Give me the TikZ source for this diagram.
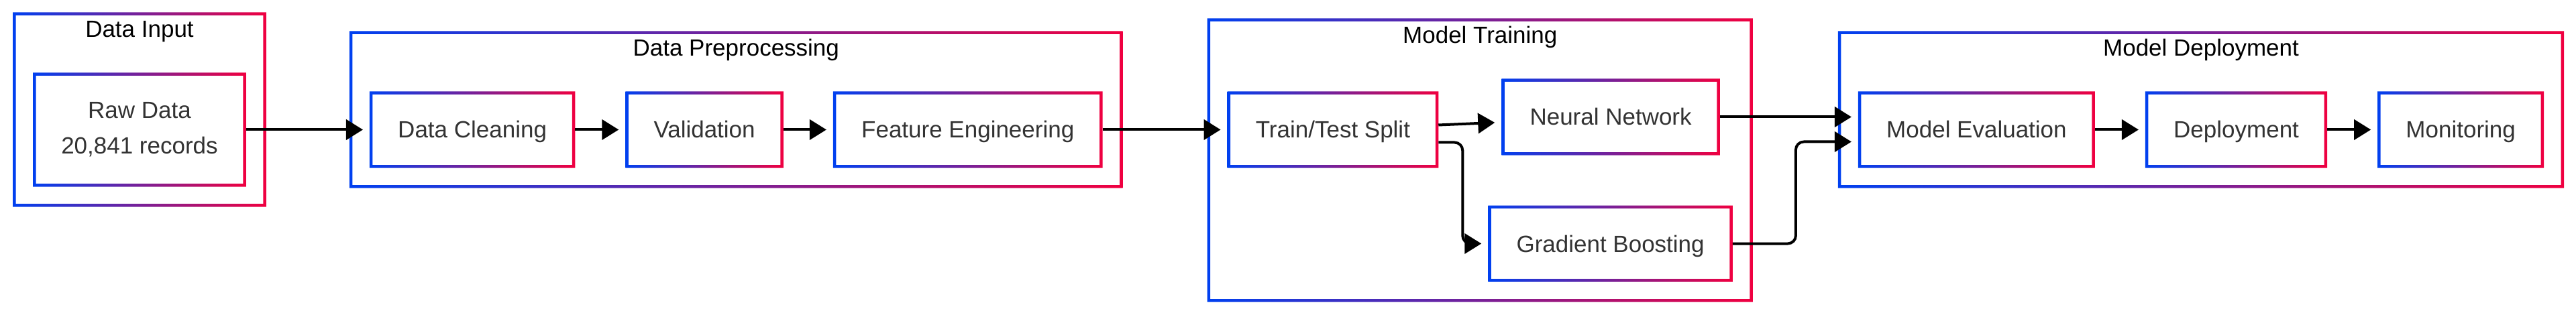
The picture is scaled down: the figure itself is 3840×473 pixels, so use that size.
\documentclass[tikz,border=0pt]{standalone}
\usepackage{fontspec}
\setmainfont{Liberation Sans}
\usepackage{xcolor}
\usetikzlibrary{arrows.meta, positioning, fit, calc}

\definecolor{gradblue}{RGB}{0,64,240}
\definecolor{gradred}{RGB}{240,0,64}
\definecolor{boxtext}{RGB}{51,51,51}

% gradient border: blue on the left, red on the right
\newcommand{\gradframe}[1]{%
  \shade[left color=gradblue, right color=gradred, even odd rule]
    (#1.south west) rectangle (#1.north east)
    ([shift={(4.5pt,4.5pt)}]#1.south west) rectangle ([shift={(-4.5pt,-4.5pt)}]#1.north east);}

\begin{document}
\begin{tikzpicture}[x=1pt, y=1pt,
    box/.style={rectangle, minimum height=109.5pt, inner xsep=40pt, outer sep=2.25pt, text=boxtext, font=\fontsize{35pt}{53pt}\selectfont},
    onebox/.style={box, text height=25pt, text depth=0pt},
    stagegroup/.style={rectangle, inner sep=27.75pt, outer sep=2.25pt},
    grouptitle/.style={anchor=base, font=\fontsize{35pt}{53pt}\selectfont},
    arrow/.style={line width=4pt, -{Triangle[length=25pt, width=30pt]}, shorten >=10pt}
]
\useasboundingbox (0,0) rectangle (3840,-473);

% Nodes
\node (raw) [box, minimum height=165.5pt, align=center] at (208,-193.5) {Raw Data\\20,841 records};

\node (clean) [onebox, right=184pt of raw] {Data Cleaning};
\node (valid) [onebox, right=75pt of clean] {Validation};
\node (feat) [onebox, right=74pt of valid] {Feature Engineering};

\node (split) [onebox, right=186pt of feat] {Train/Test Split};
\node (neural) [onebox, right=94pt of split, yshift=19pt] {Neural Network};
\node (boost) [onebox, right=74pt of split, yshift=-170pt] {Gradient Boosting};

\node (eval) [onebox, right=206pt of neural, yshift=-19pt] {Model Evaluation};
\node (deploy) [onebox, right=75pt of eval] {Deployment};
\node (monitor) [onebox, right=75pt of deploy] {Monitoring};

% Group frames
\coordinate (inputtop) at ([yshift=60pt]raw.north);
\coordinate (preptop) at ([yshift=60pt]clean.north);
\coordinate (traintop) at ([yshift=60pt]neural.north);
\coordinate (deploytop) at ([yshift=60pt]eval.north);
\node (input) [stagegroup, fit=(raw) (inputtop)] {};
\node (prep) [stagegroup, fit=(clean) (feat) (preptop)] {};
\node (train) [stagegroup, fit=(split) (neural) (boost) (traintop)] {};
\node (deploygrp) [stagegroup, fit=(eval) (monitor) (deploytop)] {};

\foreach \n in {input, prep, train, deploygrp, raw, clean, valid, feat, split, neural, boost, eval, deploy, monitor}
    {\gradframe{\n}}

\node (inputtitle) [grouptitle] at ([yshift=-37.5pt]input.north) {Data Input};
\node (preptitle) [grouptitle] at ([yshift=-37.5pt]prep.north) {Data Preprocessing};
\node (traintitle) [grouptitle] at ([yshift=-37.5pt]train.north) {Model Training};
\node (deploytitle) [grouptitle] at ([yshift=-37.5pt]deploygrp.north) {Model Deployment};

% Edges
\draw [arrow] (raw) -- (clean);
\draw [arrow] (clean) -- (valid);
\draw [arrow] (valid) -- (feat);
\draw [arrow] (feat) -- (split);
\draw [arrow] ([yshift=7pt]split.east) -- ([yshift=-8pt]neural.west);
\draw [arrow, rounded corners=12pt] ([yshift=-19pt]split.east) -- ++(36pt,0) |- (boost);
\draw [arrow] (neural.east) -- (neural.east -| eval.west);
\draw [arrow, rounded corners=12pt] (boost.east) -- ++(94pt,0) |- ([yshift=-18pt]eval.west);
\draw [arrow] (eval) -- (deploy);
\draw [arrow] (deploy) -- (monitor);

\end{tikzpicture}
\end{document}
